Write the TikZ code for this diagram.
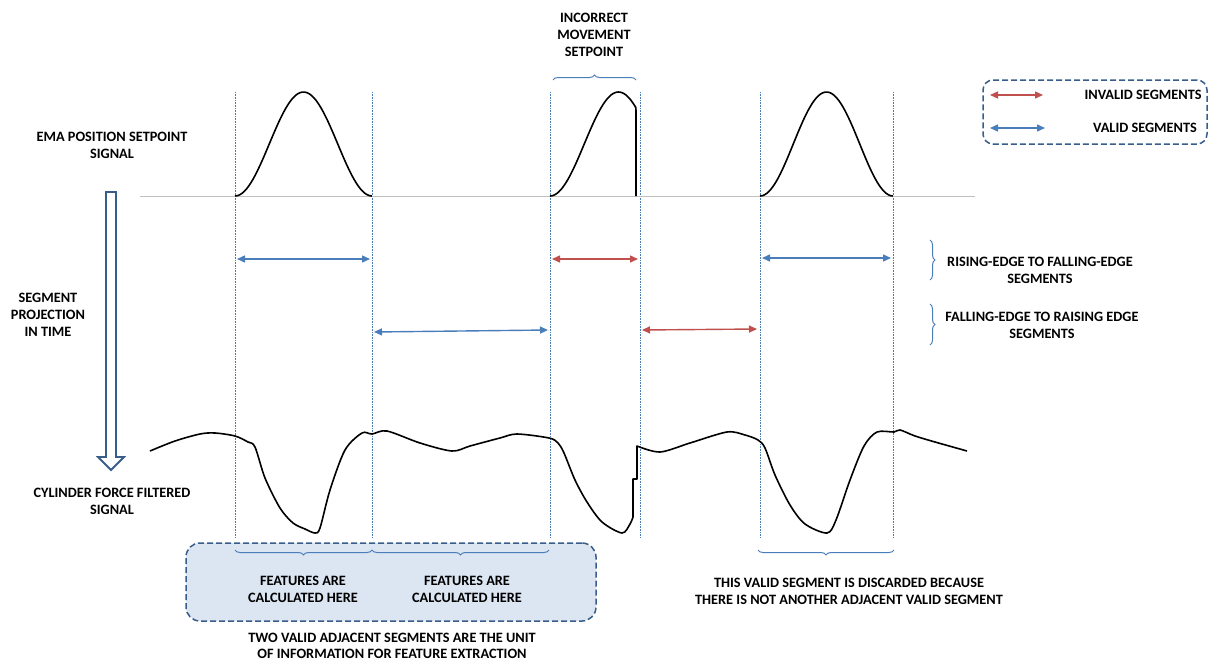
\documentclass[tikz,border=0pt]{standalone}
\usepackage{fontspec}
\setmainfont{Carlito}[BoldFont={Carlito Bold}]
\usetikzlibrary{arrows.meta,decorations.pathreplacing}
\definecolor{segblue}{HTML}{4A7EBB}
\definecolor{segred}{HTML}{C0504D}
\definecolor{frameblue}{HTML}{385D8A}
\definecolor{boxfill}{HTML}{DCE6F2}
\definecolor{basegray}{HTML}{BFBFBF}

\begin{document}
\begin{tikzpicture}[x=1pt,y=-1pt,
  lbl/.style={font=\fontsize{14.3}{17}\selectfont\bfseries, align=center, inner sep=0pt},
  guide/.style={segblue, densely dotted, line width=0.6pt},
  validseg/.style={segblue, line width=1.4pt,
    {Triangle[length=8pt,width=7pt]}-{Triangle[length=8pt,width=7pt]}},
  invalidseg/.style={validseg, segred},
  sig/.style={black, line width=1.6pt, line join=round},
  span/.style={segblue, line width=1pt, decorate,
    decoration={brace, amplitude=5pt, aspect=0.5}},
  dashframe/.style={draw=frameblue, line width=1.5pt, dash pattern=on 6pt off 3pt},
]
\useasboundingbox (0,0) rectangle (1210,664);

% time guides at the segment boundaries
\foreach \n/\x in {1/235,2/372,3/550,4/640,5/760,6/893}{
  \coordinate (g\n t) at (\x,92);
  \coordinate (g\n b) at (\x,537);
  \draw[guide] (g\n t) -- (g\n b);
}

% setpoint signal
\draw[basegray, line width=1pt] (140,196) -- (975,196);
\draw[sig] plot[domain=0:1, samples=60] ({235+137*\x},{196-52*(1-cos(360*\x))});
\draw[sig] plot[domain=0:0.628, samples=50] ({550+137*\x},{196-52*(1-cos(360*\x))})
  -- (636,196);
\draw[sig] plot[domain=0:1, samples=60] ({760+133*\x},{196-52*(1-cos(360*\x))});

% cylinder force signal
\draw[sig] plot[smooth, tension=0.5] coordinates {
  (150,451) (175,441) (200,434) (215,433) (235,436) (248,442) (255,447)
  (265,478) (280,508) (293,523) (305,529) (315,533) (320,528) (330,490)
  (345,450) (362,433) (372,434) (387,431) (420,443) (452,451) (470,446)
  (500,438) (517,434) (549,438) (558,443) (564,453) (575,480) (587,502)
  (602,522) (622,533) (630,524) (633,517)}
  -- (633,479) -- (637,479) -- plot[smooth, tension=0.5] coordinates {
  (637,446) (660,452) (690,443) (727,432) (745,435) (758,440) (765,448)
  (775,475) (790,505) (805,524) (827,533) (836,520) (850,480) (864,446)
  (877,432) (894,432) (900,430) (915,436) (935,442) (967,451)};

% segment arrows, rising edge to falling edge
\coordinate (r1a) at (237,259); \coordinate (r1b) at (370,259);
\coordinate (r2a) at (552,259); \coordinate (r2b) at (638,259);
\coordinate (r3a) at (762,258); \coordinate (r3b) at (891,258);
\draw[validseg] (r1a) -- (r1b);
\draw[invalidseg] (r2a) -- (r2b);
\draw[validseg] (r3a) -- (r3b);

% segment arrows, falling edge to rising edge
\coordinate (f1a) at (374,332); \coordinate (f1b) at (548,330);
\coordinate (f2a) at (642,330); \coordinate (f2b) at (757,329);
\draw[validseg] (f1a) -- (f1b);
\draw[invalidseg] (f2a) -- (f2b);

% projection arrow
\draw[frameblue, line width=1.8pt, fill=white, line join=miter]
  (106,192) -- (116,192) -- (116,457) -- (124,457) -- (111,470)
  -- (98,457) -- (106,457) -- cycle;

% left captions
\node[lbl] (ema) at (112,145) {EMA POSITION SETPOINT\\SIGNAL};
\node[lbl] (proj) at (48,315) {SEGMENT\\PROJECTION\\IN TIME};
\node[lbl] (cyl) at (112,501) {CYLINDER FORCE FILTERED\\SIGNAL};

% incorrect movement
\node[lbl] (incorrect) at (594,35) {INCORRECT\\MOVEMENT\\SETPOINT};
\coordinate (ima) at (553,80); \coordinate (imb) at (636,80);
\draw[span] (ima) -- (imb);

% legend
\node[dashframe, rounded corners=10pt, minimum width=224pt, minimum height=64pt]
  (legend) at (1095,112) {};
\coordinate (la) at (990,95); \coordinate (lb) at (1043,95);
\coordinate (lc) at (990,128); \coordinate (ld) at (1045,128);
\draw[invalidseg] (la) -- (lb);
\draw[validseg] (lc) -- (ld);
\node[lbl] (linv) at (1143,95) {INVALID SEGMENTS};
\node[lbl] (lval) at (1145,128) {VALID SEGMENTS};

% right captions
\coordinate (b1a) at (930,240); \coordinate (b1b) at (930,280);
\coordinate (b2a) at (930,304); \coordinate (b2b) at (930,345);
\draw[span] (b1a) -- (b1b);
\draw[span] (b2a) -- (b2b);
\node[lbl] (rise) at (1040,270) {RISING-EDGE TO FALLING-EDGE\\SEGMENTS};
\node[lbl] (fall) at (1042,325) {FALLING-EDGE TO RAISING EDGE\\SEGMENTS};

% feature extraction unit
\node[dashframe, fill=boxfill, rounded corners=14pt, minimum width=410pt,
  minimum height=78pt] (unit) at (391,582) {};
\coordinate (s1a) at (235,550); \coordinate (s1b) at (372,550);
\coordinate (s2a) at (372,550); \coordinate (s2b) at (549,550);
\draw[span] (s1b) -- (s1a);
\draw[span] (s2b) -- (s2a);
\node[lbl] (feat1) at (303,589) {FEATURES ARE\\CALCULATED HERE};
\node[lbl] (feat2) at (467,589) {FEATURES ARE\\CALCULATED HERE};
\node[lbl, font=\fontsize{14.3}{16}\selectfont\bfseries] (unitcap) at (392,646)
  {TWO VALID ADJACENT SEGMENTS ARE THE UNIT\\OF INFORMATION FOR FEATURE EXTRACTION};

% discarded segment
\coordinate (d1a) at (758,550); \coordinate (d1b) at (894,550);
\draw[span] (d1b) -- (d1a);
\node[lbl] (discard) at (849,591) {THIS VALID SEGMENT IS DISCARDED BECAUSE\\THERE IS NOT ANOTHER ADJACENT VALID SEGMENT};
\end{tikzpicture}
\end{document}
